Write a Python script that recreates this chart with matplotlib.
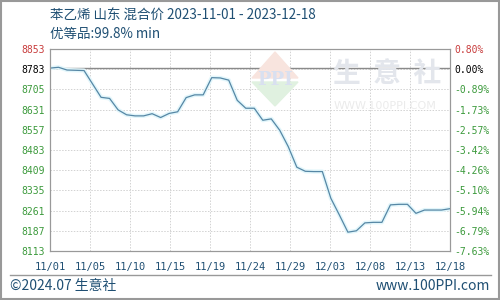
import numpy as np
import matplotlib
matplotlib.use("Agg")
import matplotlib.pyplot as plt
from matplotlib.patches import Polygon, Rectangle
from matplotlib.lines import Line2D

plt.rcParams['font.family'] = ['Noto Sans CJK SC', 'DejaVu Sans']

# 数据 (2023-11-01 ~ 2023-12-18, 每日)
dates = ["11/01", "11/02", "11/03", "11/04", "11/05", "11/06", "11/07", "11/08",
         "11/09", "11/10", "11/11", "11/12", "11/13", "11/14", "11/15", "11/16",
         "11/17", "11/18", "11/19", "11/20", "11/21", "11/22", "11/23", "11/24",
         "11/25", "11/26", "11/27", "11/28", "11/29", "11/30", "12/01", "12/02",
         "12/03", "12/04", "12/05", "12/06", "12/07", "12/08", "12/09", "12/10",
         "12/11", "12/12", "12/13", "12/14", "12/15", "12/16", "12/17", "12/18"]
prices = [8783, 8786, 8776, 8775, 8774, 8725, 8676, 8672,
          8630, 8612, 8608, 8608, 8616, 8602, 8617, 8623,
          8675, 8685, 8685, 8748, 8747, 8739, 8665, 8636,
          8636, 8592, 8597, 8555, 8495, 8420, 8405, 8404,
          8404, 8306, 8245, 8182, 8187, 8216, 8218, 8218,
          8282, 8284, 8284, 8251, 8263, 8263, 8263, 8268]
base_price = 8783
left_labels = ["8113", "8187", "8261", "8335", "8409", "8483", "8557",
               "8631", "8705", "8783", "8853"]
right_labels = ["-7.63%", "-6.79%", "-5.94%", "-5.10%", "-4.26%", "-3.42%",
                "-2.57%", "-1.73%", "-0.89%", "0.00%", "0.80%"]
xtick_labels = ["11/01", "11/05", "11/10", "11/15", "11/19", "11/24",
                "11/29", "12/03", "12/08", "12/13", "12/18"]

ymin, ymax = 8113, 8853
x = np.arange(len(prices))
n = len(prices) - 1

fig = plt.figure(figsize=(5, 3), dpi=100)
ax = fig.add_axes([0.1, 1 - 251 / 300, 0.8, 202 / 300])

blue_txt = "#1f4f73"
green = "#3c9a3c"
red = "#c83c3c"
gray = "#999999"

# 水印
fig.patches.append(Polygon([[252 / 500, 1 - 78 / 300], [275 / 500, 1 - 52 / 300],
                            [298 / 500, 1 - 78 / 300]], closed=True,
                           transform=fig.transFigure, color="#f8e4de", zorder=0))
fig.patches.append(Polygon([[252 / 500, 1 - 82 / 300], [275 / 500, 1 - 106 / 300],
                            [298 / 500, 1 - 82 / 300]], closed=True,
                           transform=fig.transFigure, color="#e0f1e0", zorder=0))
fig.text(275 / 500, 1 - 80 / 300, "PPI", color="#d9e0f0", fontsize=13,
         family="DejaVu Serif", weight="bold", ha="center", va="center", zorder=0)
fig.text(387 / 500, 1 - 74 / 300, "生  意  社", color="#e3e6ec", fontsize=20,
         weight="bold", ha="center", va="center", zorder=0)
fig.text(385 / 500, 1 - 106 / 300, "WWW.100PPI.COM", color="#ebebeb", fontsize=8,
         family="DejaVu Sans", ha="center", va="center", zorder=0)
ax.set_facecolor("none")

ax.plot(x, prices, color="#e2f6fb", lw=3.0, solid_capstyle="round", zorder=3)
ax.plot(x, prices, color="#5687a5", lw=0.9, zorder=4)
ax.axhline(base_price, color="#8a8a8a", lw=1.0, zorder=2)

ax.set_xlim(0, n)
ax.set_ylim(ymin, ymax)
yt = np.linspace(ymin, ymax, len(left_labels))
xt = np.linspace(0, n, len(xtick_labels))
ax.set_yticks(yt)
ax.set_yticklabels(left_labels)
ax.set_xticks(xt)
ax.set_xticklabels(xtick_labels)
ax.grid(True, color="#d2d2d2", ls=(0, (1.5, 1.5)), lw=0.7)
ax.tick_params(axis="y", length=0, labelsize=7, pad=4)
ax.tick_params(axis="x", length=0, labelsize=7.5, pad=8)
for lab in ax.get_yticklabels() + ax.get_xticklabels():
    lab.set_family("DejaVu Sans Mono")
for i, lab in enumerate(ax.get_yticklabels()):
    lab.set_color(red if i == 10 else ("black" if i == 9 else green))
for lab in ax.get_xticklabels():
    lab.set_color(blue_txt)
for s in ax.spines.values():
    s.set_color(gray)

ax2 = ax.twinx()
ax2.set_ylim(ymin, ymax)
ax2.set_yticks(yt)
ax2.set_yticklabels(right_labels)
ax2.tick_params(length=0, labelsize=7, pad=3)
for i, lab in enumerate(ax2.get_yticklabels()):
    lab.set_family("DejaVu Sans Mono")
    lab.set_color(red if i == 10 else ("black" if i == 9 else green))
for s in ax2.spines.values():
    s.set_color(gray)

# 标题
fig.text(50 / 500, 1 - 16 / 300, "苯乙烯 山东 混合价 2023-11-01 - 2023-12-18",
         color=blue_txt, fontsize=9.7, va="center", ha="left")
fig.text(50 / 500, 1 - 34 / 300, "优等品:99.8% min",
         color=blue_txt, fontsize=9.7, va="center", ha="left")

# 页脚
fig.add_artist(Line2D([10 / 500, 491 / 500], [1 - 275 / 300, 1 - 275 / 300],
                      color=gray, lw=1.0, transform=fig.transFigure))
fig.text(10 / 500, 1 - 286 / 300, "©2024.07 生意社", color=blue_txt,
         fontsize=10, va="center", ha="left")
fig.text(490 / 500, 1 - 286 / 300, "www.100PPI.com", color=blue_txt,
         fontsize=10, va="center", ha="right")
fig.patches.append(Rectangle((0.001, 0.002), 0.997, 0.995, fill=False,
                             edgecolor=gray, lw=1.5, transform=fig.transFigure))

fig.savefig("out.png", dpi=100)
